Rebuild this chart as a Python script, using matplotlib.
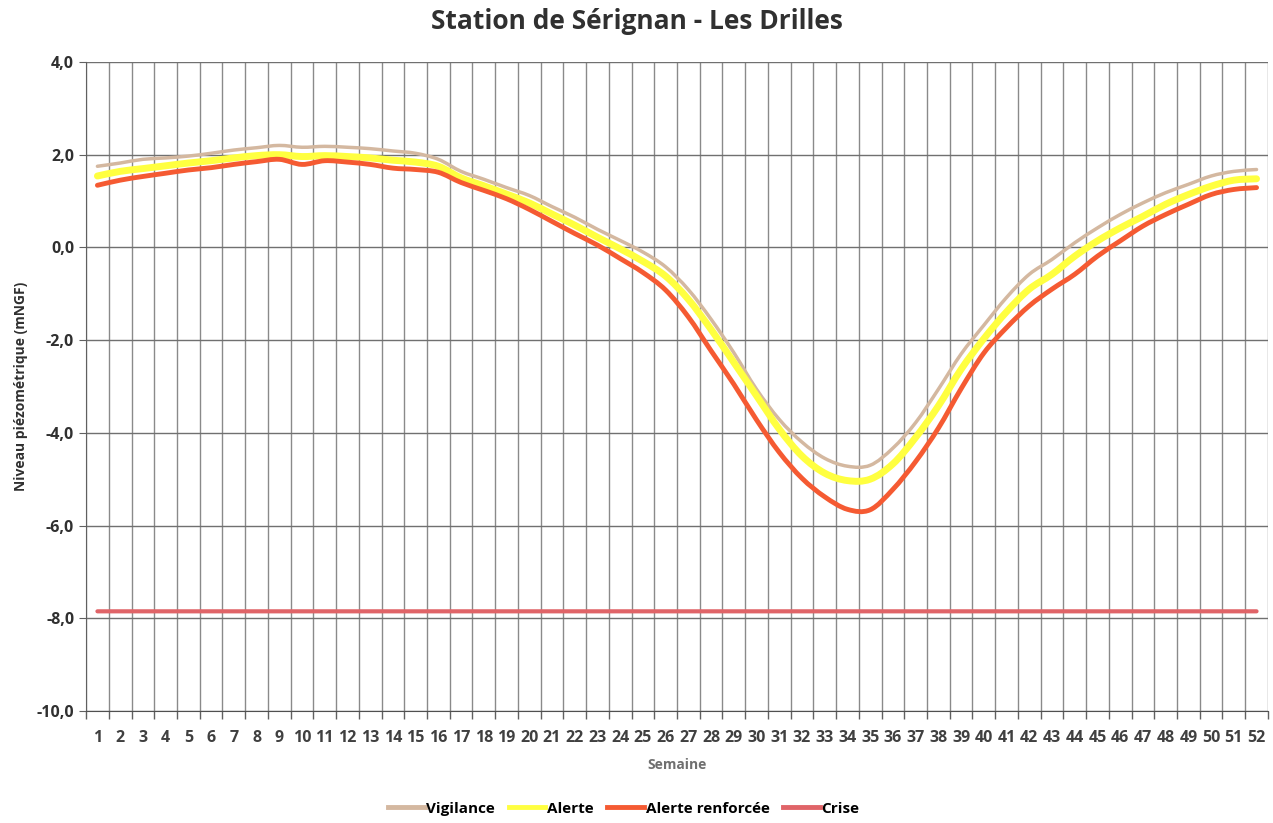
import numpy as np
import matplotlib.pyplot as plt
from matplotlib.path import Path
from matplotlib.patches import PathPatch
from matplotlib.lines import Line2D
from matplotlib.ticker import FixedLocator, FuncFormatter

# Données (niveaux en mNGF, par semaine)
semaines = list(range(1, 53))

vigilance = [1.75, 1.82, 1.90, 1.93, 1.97, 2.03, 2.10, 2.15, 2.20, 2.16,
             2.18, 2.16, 2.13, 2.08, 2.03, 1.90, 1.64, 1.47, 1.29, 1.12,
             0.88, 0.65, 0.39, 0.15, -0.10, -0.42, -0.91, -1.55, -2.27, -3.06,
             -3.71, -4.20, -4.55, -4.72, -4.70, -4.33, -3.78, -3.06, -2.30, -1.68,
             -1.08, -0.58, -0.26, 0.10, 0.42, 0.71, 0.96, 1.18, 1.36, 1.54,
             1.64, 1.68]

alerte = [1.54, 1.64, 1.70, 1.76, 1.82, 1.87, 1.93, 1.98, 2.00, 1.96,
          1.98, 1.96, 1.93, 1.88, 1.84, 1.75, 1.50, 1.33, 1.15, 0.96,
          0.72, 0.48, 0.22, -0.03, -0.30, -0.62, -1.12, -1.77, -2.48, -3.20,
          -3.92, -4.50, -4.87, -5.03, -5.00, -4.67, -4.10, -3.42, -2.63, -1.97,
          -1.39, -0.90, -0.58, -0.19, 0.14, 0.42, 0.67, 0.93, 1.14, 1.32,
          1.45, 1.48]

alerte_renforcee = [1.34, 1.45, 1.53, 1.60, 1.67, 1.72, 1.79, 1.85, 1.90, 1.79,
                    1.87, 1.84, 1.79, 1.71, 1.68, 1.62, 1.40, 1.23, 1.05, 0.82,
                    0.56, 0.30, 0.05, -0.24, -0.54, -0.92, -1.50, -2.23, -2.95, -3.72,
                    -4.42, -4.98, -5.38, -5.65, -5.66, -5.22, -4.62, -3.90, -3.05, -2.28,
                    -1.73, -1.26, -0.90, -0.58, -0.19, 0.14, 0.46, 0.71, 0.93, 1.14,
                    1.25, 1.29]

crise = [-7.85] * 52

series = [
    ("Vigilance", vigilance, "#d4b8a0", 2.5),
    ("Alerte", alerte, "#ffff40", 5.0),
    ("Alerte renforcée", alerte_renforcee, "#f55a32", 3.5),
    ("Crise", crise, "#e06468", 3.0),
]


def courbe_lissee(x, y):
    """Chemin de Bézier passant par les points (lissage type tableur)."""
    x = np.asarray(x, float)
    y = np.asarray(y, float)
    p = np.column_stack([x, y])
    n = len(p)
    verts = [p[0]]
    codes = [Path.MOVETO]
    for i in range(n - 1):
        p0 = p[i - 1] if i > 0 else p[i]
        p3 = p[i + 2] if i + 2 < n else p[i + 1]
        c1 = p[i] + (p[i + 1] - p0) / 6
        c2 = p[i + 1] - (p3 - p[i]) / 6
        verts += [c1, c2, p[i + 1]]
        codes += [Path.CURVE4] * 3
    return Path(verts, codes)


plt.rcParams['font.family'] = ['Open Sans', 'DejaVu Sans']

fig = plt.figure(figsize=(12.73, 8.23), dpi=100)
ax = fig.add_axes([0.0676, 0.1361, 0.9284, 0.7886])

poignees = []
for nom, valeurs, couleur, lw in series:
    ax.add_patch(PathPatch(courbe_lissee(semaines, valeurs), facecolor='none',
                           edgecolor=couleur, lw=lw, capstyle='round', zorder=3))
    poignees.append(Line2D([], [], color=couleur, lw=3.5, label=nom))

ax.set_xlim(0.5, 52.5)
ax.set_ylim(-10, 4)

# Axe des catégories : étiquettes centrées, graduations entre catégories
ax.xaxis.set_major_locator(FixedLocator(semaines))
ax.xaxis.set_minor_locator(FixedLocator(np.arange(0.5, 53, 1)))
ax.tick_params(axis='x', which='major', length=0, pad=14,
               labelsize=11.5, labelcolor='#404040')
ax.tick_params(axis='x', which='minor', length=6, color='#606060', width=1)
for lab in ax.get_xticklabels():
    lab.set_fontweight('bold')

ax.set_yticks(np.arange(-10, 5, 2))
ax.yaxis.set_major_formatter(FuncFormatter(lambda v, p: f"{v:.1f}".replace('.', ',')))
ax.tick_params(axis='y', length=5, color='#606060', labelsize=11.5,
               labelcolor='#303030')
for lab in ax.get_yticklabels():
    lab.set_fontweight('bold')

# Quadrillage
ax.grid(True, which='minor', axis='x', color='#8a8a8a', lw=1.0, zorder=1)
ax.grid(True, which='major', axis='y', color='#707070', lw=1.0, zorder=1)
for s in ['top', 'right']:
    ax.spines[s].set_visible(False)
ax.spines['left'].set_color('#606060')
ax.spines['bottom'].set_color('#505050')

ax.set_xlabel("Semaine", fontsize=10, fontweight='bold', color='#707070', labelpad=8)
ax.set_ylabel("Niveau piézométrique (mNGF)", fontsize=10, fontweight='bold',
              color='#303030', labelpad=6)

fig.suptitle("Station de Sérignan - Les Drilles", fontsize=19, fontweight='bold',
             color='#303030', y=0.99)

fig.legend(handles=poignees, loc='lower center', bbox_to_anchor=(0.49, -0.008),
           ncol=4, frameon=False, handlelength=2.4, handletextpad=0.1,
           columnspacing=0.9, prop={'weight': 'bold', 'size': 11})

fig.savefig("out.png", dpi=100)
